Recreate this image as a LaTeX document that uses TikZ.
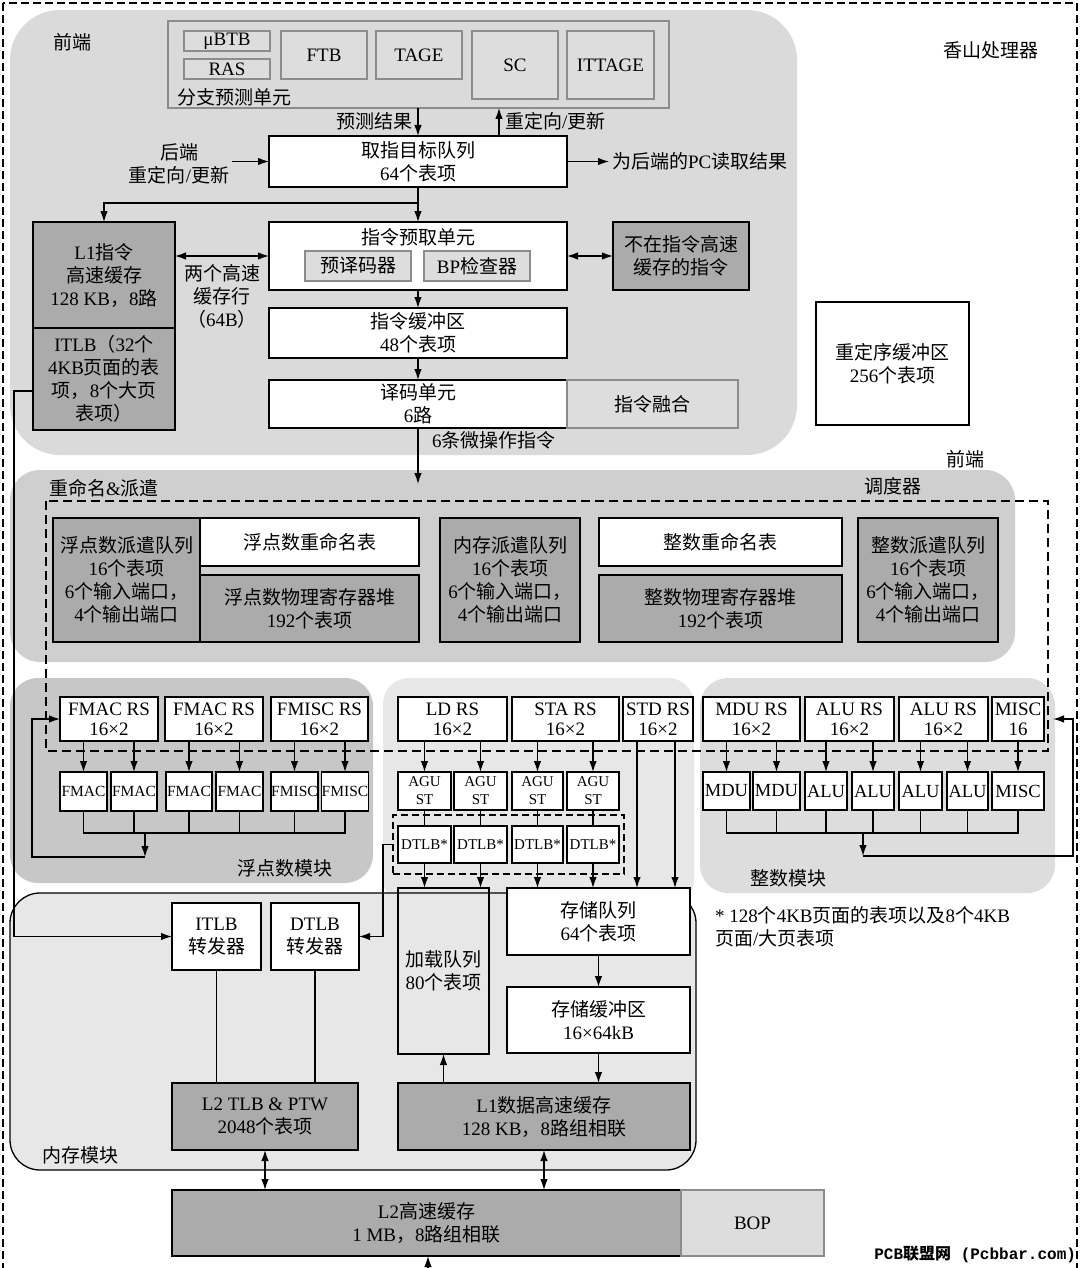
\documentclass[tikz,border=0pt]{standalone}
\usepackage{fontspec}
\setmainfont{Liberation Serif}
\setmonofont{Liberation Mono}
\newfontfamily\cjkfont{Noto Sans CJK SC}
\usetikzlibrary{arrows.meta}

% Han characters switch to the CJK family on their own
\XeTeXinterchartokenstate=1
\chardef\hanclass=10
\newcount\hancount
\hancount="4E00
\loop
  \XeTeXcharclass\hancount=\hanclass
  \advance\hancount by 1
\ifnum\hancount<"A000 \repeat
\XeTeXcharclass"FF08=\hanclass
\XeTeXcharclass"FF09=\hanclass
\XeTeXcharclass"FF0C=\hanclass
\XeTeXinterchartoks 0 \hanclass = {\begingroup\cjkfont}
\XeTeXinterchartoks 4095 \hanclass = {\begingroup\cjkfont}
\XeTeXinterchartoks \hanclass 0 = {\endgroup}
\XeTeXinterchartoks \hanclass 4095 = {\endgroup}

\definecolor{fefill}{gray}{0.855}
\definecolor{rnfill}{gray}{0.81}
\definecolor{fpfill}{gray}{0.78}
\definecolor{memfill}{gray}{0.905}
\definecolor{intfill}{gray}{0.865}
\definecolor{boxdark}{gray}{0.67}
\definecolor{softfill}{gray}{0.865}
\definecolor{softline}{gray}{0.55}

\begin{document}
\begin{tikzpicture}[
    x=1pt, y=-1pt,
    >={Latex[length=11pt,width=7.5pt]},
    line width=1.3pt,
    every node/.style={font=\fontsize{19}{23}\selectfont, inner sep=0pt, outer sep=0pt},
    box/.style={draw, fill=white, align=center},
    dark/.style={box, fill=boxdark},
    soft/.style={draw=softline, fill=softfill, line width=1.1pt, align=center},
    wh/.style 2 args={minimum width=#1, minimum height=#2},
    rs/.style={box, font=\fontsize{19}{20}\selectfont},
    agu/.style={box, font=\fontsize{15}{18}\selectfont},
    fpunit/.style={box, font=\fontsize{15.5}{18}\selectfont},
    intunit/.style={box, font=\fontsize{18.5}{22}\selectfont},
    flow/.style={->},
    both/.style={<->}
]
\useasboundingbox (0,0) rectangle (1080,1268);

%------------------------------------------------
% Frame and regions
%------------------------------------------------
\draw[line width=2pt, dash pattern=on 8pt off 4pt] (3,3) rectangle (1077,1300);

\fill[fefill, rounded corners=50pt] (10,10) rectangle (797,455);
\fill[rnfill, rounded corners=30pt] (10,470) rectangle (1015,662);
\fill[fpfill, rounded corners=28pt] (10,678) rectangle (373,883);
\fill[memfill, rounded corners=26pt] (383,678) rectangle (694,905);
\filldraw[fill=memfill, rounded corners=30pt] (10,893) rectangle (696,1170);
\fill[intfill, rounded corners=28pt] (700,678) rectangle (1055,893);

%------------------------------------------------
% Front end
%------------------------------------------------
\node[soft, fill=none, wh={501}{87}] (bpu) at (418.5,64.5) {};
\node[soft, wh={86}{20}] (ubtb)   at (227,41)   {μBTB};
\node[soft, wh={86}{20}] (ras)    at (227,69)   {RAS};
\node[soft, wh={86}{48}] (ftb)    at (324,55)   {FTB};
\node[soft, wh={86}{48}] (tage)   at (419,55)   {TAGE};
\node[soft, wh={86}{68}] (sc)     at (515,65)   {SC};
\node[soft, wh={87}{68}] (ittage) at (610.5,65) {ITTAGE};
\node[anchor=west] (bput) at (177,97) {分支预测单元};

\node[box, wh={298}{51}] (ftq) at (418,161.5) {取指目标队列\\64个表项};

\node[dark, wh={142}{106}] (l1i)  at (104,275) {L1指令\\高速缓存\\128 KB，8路};
\node[dark, wh={142}{102}] (itlb) at (104,379) {ITLB（32个\\4KB页面的表\\项，8个大页\\表项）};

\node[box, wh={298}{68}] (ifu) at (418,256) {};
\node (ifut) at (418,237) {指令预取单元};
\node[soft, wh={106}{30}] (predec) at (358,266) {预译码器};
\node[soft, wh={106}{30}] (bpchk)  at (477,266) {BP检查器};

\node[dark, wh={136}{68}] (noti) at (681,256) {不在指令高速\\缓存的指令};

\node[box, wh={298}{50}] (ib)  at (418,333) {指令缓冲区\\48个表项};
\node[box, wh={298}{48}] (dec) at (418,404) {译码单元\\6路};
\node[soft, wh={171}{48}] (fuse) at (652.5,404) {指令融合};

\node[box, wh={153}{123}] (rob) at (892.5,363.5) {重定序缓冲区\\256个表项};

%------------------------------------------------
% Rename and dispatch
%------------------------------------------------
\node[dark, wh={147}{124}] (fpdq)  at (126.5,580) {浮点数派遣队列\\16个表项\\6个输入端口，\\4个输出端口};
\node[box,  wh={219}{48}]  (fprt)  at (309.5,542) {浮点数重命名表};
\node[dark, wh={219}{67}]  (fprf)  at (309.5,608.5) {浮点数物理寄存器堆\\192个表项};
\node[dark, wh={140}{124}] (memdq) at (510,580) {内存派遣队列\\16个表项\\6个输入端口，\\4个输出端口};
\node[box,  wh={243}{48}]  (intrt) at (720.5,542) {整数重命名表};
\node[dark, wh={243}{67}]  (intrf) at (720.5,608.5) {整数物理寄存器堆\\192个表项};
\node[dark, wh={140}{124}] (intdq) at (928,580) {整数派遣队列\\16个表项\\6个输入端口，\\4个输出端口};

%------------------------------------------------
% Floating point block
%------------------------------------------------
\node[rs, wh={98}{44}] (fmacrs1) at (109,719)   {FMAC RS\\16×2};
\node[rs, wh={98}{44}] (fmacrs2) at (214,719)   {FMAC RS\\16×2};
\node[rs, wh={97}{44}] (fmiscrs) at (319.5,719) {FMISC RS\\16×2};

\node[fpunit, wh={47}{39}] (fmac1)  at (83.5,791.5)  {FMAC};
\node[fpunit, wh={46}{39}] (fmac2)  at (134,791.5)   {FMAC};
\node[fpunit, wh={46}{39}] (fmac3)  at (189,791.5)   {FMAC};
\node[fpunit, wh={47}{39}] (fmac4)  at (239.5,791.5) {FMAC};
\node[fpunit, wh={47}{39}] (fmisc1) at (294.5,791.5) {FMISC};
\node[fpunit, wh={46}{39}] (fmisc2) at (345,791.5)   {FMISC};

%------------------------------------------------
% Memory block
%------------------------------------------------
\node[rs, wh={109}{44}] (ldrs)  at (452.5,719) {LD RS\\16×2};
\node[rs, wh={107}{44}] (stars) at (565.5,719) {STA RS\\16×2};
\node[rs, wh={70}{44}]  (stdrs) at (658,719)   {STD RS\\16×2};

\node[agu, wh={53}{38}] (agu1) at (424.5,791) {AGU\\ST};
\node[agu, wh={53}{38}] (agu2) at (480.5,791) {AGU\\ST};
\node[agu, wh={51}{38}] (agu3) at (537.5,791) {AGU\\ST};
\node[agu, wh={52}{38}] (agu4) at (593,791)   {AGU\\ST};

\node[draw, dash pattern=on 7pt off 4pt, wh={231}{59}] (dtlbs) at (508.5,844.5) {};
\node[agu, wh={53}{37}] (dtlb1) at (424.5,844.5) {DTLB*};
\node[agu, wh={53}{37}] (dtlb2) at (480.5,844.5) {DTLB*};
\node[agu, wh={51}{37}] (dtlb3) at (537.5,844.5) {DTLB*};
\node[agu, wh={52}{37}] (dtlb4) at (593,844.5)   {DTLB*};

\node[box, fill=none, wh={91}{166}] (lq) at (443.5,971) {加载队列\\80个表项};
\node[box, wh={183}{67}] (sq) at (598.5,921.5) {存储队列\\64个表项};
\node[box, wh={183}{66}] (sb) at (598.5,1020) {存储缓冲区\\16×64kB};
\node[dark, wh={292}{67}] (l1d) at (544,1116.5) {L1数据高速缓存\\128 KB，8路组相联};

\node[box, wh={89}{67}] (itlbf) at (216.5,936.5) {ITLB\\转发器};
\node[box, wh={88}{67}] (dtlbf) at (315,936.5) {DTLB\\转发器};
\node[dark, wh={186}{67}] (l2tlb) at (265,1116.5) {L2 TLB \& PTW\\2048个表项};

\node[dark, wh={509}{66}] (l2)  at (426.5,1223) {L2高速缓存\\1 MB，8路组相联};
\node[soft, wh={143}{66}] (bop) at (752.5,1223) {BOP};

%------------------------------------------------
% Integer block
%------------------------------------------------
\node[rs, wh={97}{44}] (mdurs)  at (751.5,719) {MDU RS\\16×2};
\node[rs, wh={89}{44}] (alurs1) at (849.5,719) {ALU RS\\16×2};
\node[rs, wh={89}{44}] (alurs2) at (943.5,719) {ALU RS\\16×2};
\node[rs, wh={52}{44}] (miscrs) at (1018,719)  {MISC\\16};

\node[intunit, wh={47}{38}] (mdu1) at (726.5,791)  {MDU};
\node[intunit, wh={47}{38}] (mdu2) at (776.5,791)  {MDU};
\node[intunit, wh={42}{38}] (alu1) at (826,791)    {ALU};
\node[intunit, wh={42}{38}] (alu2) at (873,791)    {ALU};
\node[intunit, wh={43}{38}] (alu3) at (920.5,791)  {ALU};
\node[intunit, wh={41}{38}] (alu4) at (967.5,791)  {ALU};
\node[intunit, wh={52}{38}] (misc) at (1018,791)   {MISC};

% scheduler outline
\draw[dash pattern=on 9pt off 5pt] (46,501) rectangle (1048,751);

%------------------------------------------------
% Free labels
%------------------------------------------------
\node (felab)  at (72,42)   {前端};
\node (xslab)  at (991,50)  {香山处理器};
\node (fe2lab) at (965,459) {前端};
\node (rnlab)  at (104,488) {重命名\&派遣};
\node (schlab) at (893,486) {调度器};
\node (fplab)  at (285,868) {浮点数模块};
\node (intlab) at (788,878) {整数模块};
\node (memlab) at (80,1155) {内存模块};
\node[anchor=west] (uoplab) at (432,440) {6条微操作指令};
\node[align=center] (linelab) at (222,296) {两个高速\\缓存行\\（64B）};
\node[align=center] (belab) at (179,164) {后端\\重定向/更新};
\node[anchor=east] (predlab) at (412,121) {预测结果};
\node[anchor=west] (redlab) at (505,121) {重定向/更新};
\node[anchor=west] (pclab) at (612,161.5) {为后端的PC读取结果};
\node[anchor=north west, align=left] (note) at (715,906) {* 128个4KB页面的表项以及8个4KB\\页面/大页表项};
\node[anchor=south east, font=\ttfamily\bfseries\fontsize{16}{18}\selectfont] (wm) at (1076,1263) {PCB联盟网 (Pcbbar.com)};

%------------------------------------------------
% Front end arrows
%------------------------------------------------
\draw[flow] (ftq.north |- bpu.south) -- (ftq.north);
\coordinate (rdup) at (499,136);
\draw[flow] (rdup) -- (rdup |- bpu.south);
\coordinate (bein) at (232,161.5);
\draw[flow] (bein) -- (ftq.west);
\coordinate (pcout) at (609,161.5);
\draw[flow] (ftq.east) -- (pcout);
\draw[flow] (ftq.south) -- (ifu.north);
\coordinate (split) at (418,203);
\draw[flow] (split) -| (l1i.north);
\draw[both] (l1i.east |- ifu.west) -- (ifu.west);
\draw[both] (ifu.east) -- (noti.west);
\draw[flow] (ifu.south) -- (ib.north);
\draw[flow] (ib.south) -- (dec.north);
\coordinate (uopin) at (418,484);
\draw[flow] (dec.south) -- (uopin);

\coordinate (iturn) at (14,391);
\draw[flow] (itlb.west |- iturn) -- (iturn) |- (itlbf.west);

%------------------------------------------------
% Floating point arrows
%------------------------------------------------
\foreach \fu/\rs in {fmac1/fmacrs1, fmac2/fmacrs1, fmac3/fmacrs2, fmac4/fmacrs2, fmisc1/fmiscrs, fmisc2/fmiscrs}
    \draw[flow] (\fu.north |- \rs.south) -- (\fu.north);
\coordinate (fpj) at (145,833);
\draw (fmac1.south) -- (fmac1.south |- fpj) -- (fmisc2.south |- fpj) -- (fmisc2.south);
\foreach \fu in {fmac2, fmac3, fmac4, fmisc1}
    \draw (\fu.south) -- (\fu.south |- fpj);
\coordinate (fpb) at (145,857);
\coordinate (fpl) at (32,719);
\draw[flow] (fpj) -- (fpb);
\draw[flow] (fpb) -| (fpl) -- (fmacrs1.west);

%------------------------------------------------
% Integer arrows
%------------------------------------------------
\foreach \fu/\rs in {mdu1/mdurs, mdu2/mdurs, alu1/alurs1, alu2/alurs1, alu3/alurs2, alu4/alurs2, misc/miscrs}
    \draw[flow] (\fu.north |- \rs.south) -- (\fu.north);
\coordinate (inj) at (863,833);
\draw (mdu1.south) -- (mdu1.south |- inj) -- (misc.south |- inj) -- (misc.south);
\foreach \fu in {mdu2, alu1, alu2, alu3, alu4}
    \draw (\fu.south) -- (\fu.south |- inj);
\coordinate (inb) at (863,856);
\coordinate (inr) at (1073,719);
\coordinate (ine) at (1053,719);
\draw[flow] (inj) -- (inb);
\draw[flow] (inb) -| (inr) -- (ine);

%------------------------------------------------
% Memory arrows
%------------------------------------------------
\foreach \fu/\rs in {agu1/ldrs, agu2/ldrs, agu3/stars, agu4/stars}
    \draw[flow] (\fu.north |- \rs.south) -- (\fu.north);
\foreach \i in {1,...,4}
    \draw (agu\i.south) -- (dtlb\i.north);
\draw[flow] (dtlb1.south) -- (dtlb1.south |- lq.north);
\draw[flow] (dtlb2.south) -- (dtlb2.south |- lq.north);
\draw[flow] (dtlb3.south) -- (dtlb3.south |- sq.north);
\draw[flow] (dtlb4.south) -- (dtlb4.south |- sq.north);
\draw[flow] ([xshift=-21pt]stdrs.south) -- ([xshift=-21pt]stdrs.south |- sq.north);
\draw[flow] ([xshift=17pt]stdrs.south) -- ([xshift=17pt]stdrs.south |- sq.north);

\coordinate (dturn) at (383,844.5);
\draw[flow] (dtlbs.west) -- (dturn) |- (dtlbf.east);

\draw[flow] (sq.south) -- (sb.north);
\draw[flow] (sb.south) -- (sb.south |- l1d.north);
\draw[flow] (lq.south |- l1d.north) -- (lq.south);
\draw (itlbf.south) -- (itlbf.south |- l2tlb.north);
\draw (dtlbf.south) -- (dtlbf.south |- l2tlb.north);
\draw[both] (l2tlb.south) -- (l2tlb.south |- l2.north);
\draw[both] (l1d.south) -- (l1d.south |- l2.north);
\coordinate (l2feed) at (428,1272);
\draw[flow] (l2feed) -- (l2feed |- l2.south);

\end{tikzpicture}
\end{document}
